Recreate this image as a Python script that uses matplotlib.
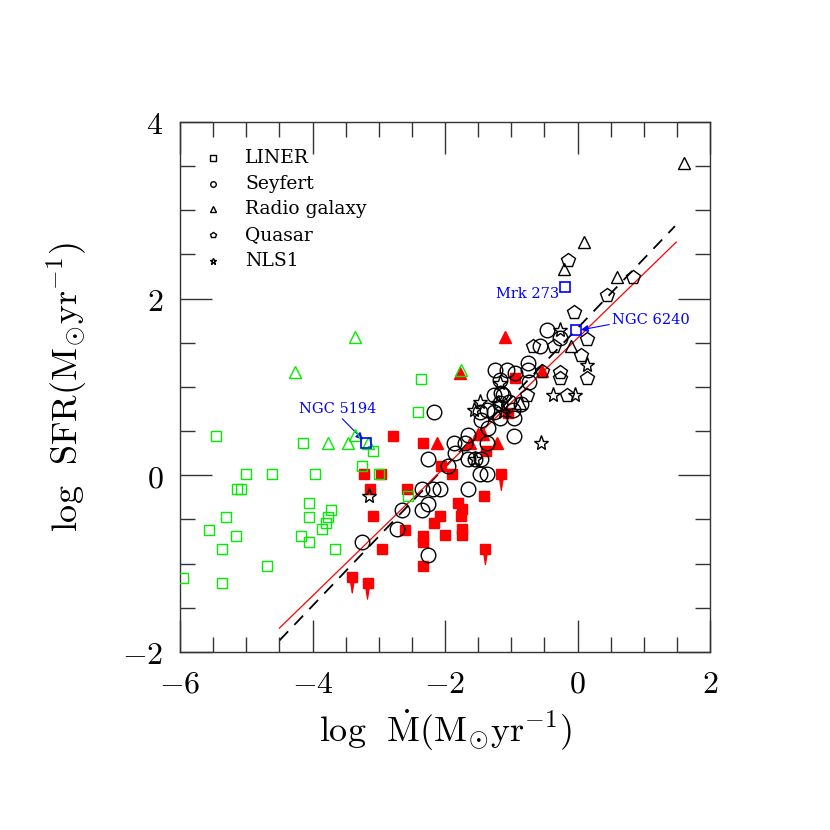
import numpy as np
import matplotlib
matplotlib.use("Agg")
import matplotlib.pyplot as plt

plt.rcParams['mathtext.fontset'] = 'cm'
plt.rcParams['font.family'] = 'serif'

# LINER (green open squares)
liner_x = [-5.46, -4.14, -5.01, -4.61, -3.96, -5.14, -5.08, -4.06, -3.72, -3.76,
           -3.79, -3.86, -4.06, -5.31, -5.56, -5.16, -5.36, -4.17, -4.06, -3.66,
           -4.68, -5.95, -5.36, -2.36, -2.41, -3.09, -3.25, -3.00, -2.56]
liner_y = [0.44, 0.36, 0.01, 0.01, 0.01, -0.16, -0.16, -0.31, -0.39, -0.47,
           -0.54, -0.61, -0.47, -0.47, -0.62, -0.69, -0.83, -0.69, -0.75, -0.83,
           -1.03, -1.16, -1.22, 1.09, 0.72, 0.27, 0.10, 0.01, -0.24]

# radio galaxies with low accretion (green open triangles)
rg_green_x = [-3.36, -4.26, -1.76, -3.76, -3.46, -3.36, -3.17]
rg_green_y = [1.56, 1.17, 1.19, 0.37, 0.37, 0.46, 0.37]

# red filled squares
red_sq_x = [-2.78, -2.33, -3.22, -2.97, -3.13, -2.58, -2.06, -1.89, -1.41, -3.08,
            -1.81, -1.74, -1.76, -2.07, -2.16, -2.61, -1.75, -2.33, -2.00, -1.74,
            -2.34, -2.95, -2.34, -0.94, -1.05, -1.38]
red_sq_y = [0.44, 0.36, 0.01, 0.01, -0.15, -0.15, 0.10, 0.01, -0.23, -0.46,
            -0.31, -0.38, -0.46, -0.46, -0.54, -0.62, -0.61, -0.69, -0.68, -0.68,
            -0.76, -0.83, -1.03, 1.10, 0.71, 0.27]

# red upper limits
red_ul_x = [-1.15, -1.39, -3.40, -3.17]
red_ul_y = [0.01, -0.83, -1.15, -1.22]

# red filled triangles
red_tri_x = [-1.10, -1.78, -2.12, -1.21, -1.50, -1.42, -1.62, -0.54]
red_tri_y = [1.56, 1.16, 0.36, 0.36, 0.47, 0.47, 0.36, 1.18]

# Seyfert (black open circles)
sey_x = [-2.16, -3.26, -2.72, -2.65, -2.35, -2.25, -2.25, -2.35, -2.18, -2.07,
         -1.65, -1.95, -2.25, -1.87, -1.70, -1.85, -1.65, -1.45, -1.47, -1.36,
         -1.65, -1.35, -1.46, -1.17, -0.96, -0.96, -1.26, -1.47, -1.17, -1.26,
         -1.12, -0.85, -1.17, -1.25, -1.06, -0.94, -0.75, -0.75, -0.74, -0.57,
         -0.46, -0.26, -1.36, -1.04, -0.97, -1.37, -1.15, -1.55]
sey_y = [0.72, -0.75, -0.61, -0.39, -0.39, -0.32, 0.18, -0.15, -0.15, -0.15,
         -0.15, 0.10, -0.90, 0.36, 0.36, 0.25, 0.18, 0.18, 0.02, 0.02,
         0.46, 0.53, 0.63, 0.65, 0.65, 0.45, 0.72, 0.72, 0.82, 0.91,
         0.91, 0.81, 1.08, 1.19, 1.19, 1.16, 1.27, 1.19, 1.06, 1.46,
         1.65, 1.55, 0.36, 0.83, 0.74, 0.74, 0.93, 0.19]

# Radio galaxies (black open triangles)
rg_x = [1.60, 0.10, -0.20, 0.60, -0.10, -0.87]
rg_y = [3.53, 2.64, 2.34, 2.24, 1.46, 0.82]

# Quasars (black open pentagons)
qso_x = [-0.15, 0.84, 0.44, -0.05, 0.14, -0.67, -0.35, 0.05, -0.26, -0.26,
         0.14, -0.16, -0.54, -0.77]
qso_y = [2.44, 2.25, 2.04, 1.85, 1.54, 1.46, 1.46, 1.36, 1.17, 1.10,
         1.10, 0.91, 1.18, 0.91]

# NLS1 (black open stars)
nls_x = [-3.15, -0.26, 0.15, -0.37, -0.04, -0.55, -1.47, -1.57, -1.17, -1.12,
         -1.55, -1.20]
nls_y = [-0.24, 1.65, 1.25, 0.91, 0.91, 0.36, 0.83, 0.74, 1.04, 0.72,
         0.18, 0.82]

# labelled objects
named = ['NGC 5194', 'Mrk 273', 'NGC 6240']
named_x = [-3.19, -0.19, -0.03]
named_y = [0.36, 2.13, 1.64]

# fitted relations
fit_x = [-4.5, 1.47]
dash_y = [-1.87, 2.82]
red_fit_x = [-4.5, 1.49]
red_fit_y = [-1.73, 2.64]

fig = plt.figure(figsize=(8.3, 8.3), dpi=100)
ax = fig.add_axes([0.2169, 0.2145, 0.6386, 0.6386])

ax.plot(fit_x, dash_y, color='black', lw=1.3, ls=(0, (7, 5)), zorder=1)
ax.plot(red_fit_x, red_fit_y, color='red', lw=0.9, zorder=1)

ax.plot(liner_x, liner_y, 's', ms=7, mfc='none', mec='#00ee00', mew=1.0, zorder=3)
ax.plot(rg_green_x, rg_green_y, '^', ms=9, mfc='none', mec='#00ee00', mew=1.0, zorder=4)
ax.plot(red_sq_x, red_sq_y, 's', ms=7, color='red', mec='red', zorder=2)
ax.plot(red_ul_x, red_ul_y, 's', ms=7, color='red', mec='red', zorder=2)
for x, y in zip(red_ul_x, red_ul_y):
    ax.annotate('', xy=(x, y - 0.25), xytext=(x, y),
                arrowprops=dict(arrowstyle='-|>,head_length=0.9,head_width=0.15',
                                color='red', lw=0.8), zorder=2)
ax.plot(red_tri_x, red_tri_y, '^', ms=8, color='red', mec='red', zorder=2)

ax.plot(sey_x, sey_y, 'o', ms=10.5, mfc='none', mec='black', mew=1.0, zorder=3)
ax.plot(rg_x, rg_y, '^', ms=9, mfc='none', mec='black', mew=1.0, zorder=3)
ax.plot(qso_x, qso_y, 'p', ms=10, mfc='none', mec='black', mew=1.0, zorder=3)
ax.plot(nls_x, nls_y, '*', ms=11, mfc='none', mec='black', mew=1.0, zorder=3)

ax.plot(named_x, named_y, 's', ms=7, mfc='none', mec='blue', mew=1.2, zorder=5)
blue_font = dict(color='blue', fontsize=10.5, family='DejaVu Serif')
ax.annotate(named[0], xy=(named_x[0] - 0.02, named_y[0] + 0.02), xytext=(-4.2, 0.75),
            va='center', ha='left', **blue_font,
            arrowprops=dict(arrowstyle='-|>', color='blue', lw=0.8,
                            shrinkA=0, shrinkB=2, relpos=(0.45, 0.4)))
ax.text(-0.27, 2.05, named[1], ha='right', va='center', **blue_font)
ax.annotate(named[2], xy=(named_x[2] + 0.04, named_y[2]), xytext=(0.52, 1.76),
            va='center', ha='left', **blue_font,
            arrowprops=dict(arrowstyle='-|>', color='blue', lw=0.8,
                            shrinkA=0, shrinkB=2, relpos=(0.0, 0.2)))

# legend
leg_labels = ['LINER', 'Seyfert', 'Radio galaxy', 'Quasar', 'NLS1']
leg_markers = ['s', 'o', '^', 'p', '*']
leg_y = [3.59, 3.30, 3.01, 2.72, 2.43]
for lab, m, yy in zip(leg_labels, leg_markers, leg_y):
    ax.plot([-5.5], [yy], m, ms=4 if m != '*' else 5, mfc='none', mec='black', mew=1.0)
    ax.text(-5.02, yy, lab, fontsize=13.5, family='DejaVu Serif',
            va='center', ha='left')

ax.set_xlim(-6, 2)
ax.set_ylim(-2, 4)
ax.set_xticks([-6, -4, -2, 0, 2])
ax.set_xticklabels([r'$-6$', r'$-4$', r'$-2$', r'$0$', r'$2$'], fontsize=23)
ax.set_yticks([-2, 0, 2, 4])
ax.set_yticklabels([r'$-2$', r'$0$', r'$2$', r'$4$'], fontsize=23)
ax.set_xticks(np.arange(-6, 2.01, 0.5), minor=True)
ax.set_yticks(np.arange(-2, 4.01, 0.5), minor=True)
ax.tick_params(which='both', direction='in', top=True, right=True, color='#333333')
ax.tick_params(which='major', length=23, width=1.0, pad=12)
ax.tick_params(which='minor', length=11, width=1.0)
for s in ax.spines.values():
    s.set_linewidth(1.0)
    s.set_color('#333333')

ax.set_xlabel(r'$\mathrm{log\ \ \dot{M}(M_{\odot}yr^{-1})}$', fontsize=26, labelpad=6)
ax.set_ylabel(r'$\mathrm{log\ \ SFR(M_{\odot}yr^{-1})}$', fontsize=26, labelpad=24)

fig.savefig('out.png', dpi=100)
